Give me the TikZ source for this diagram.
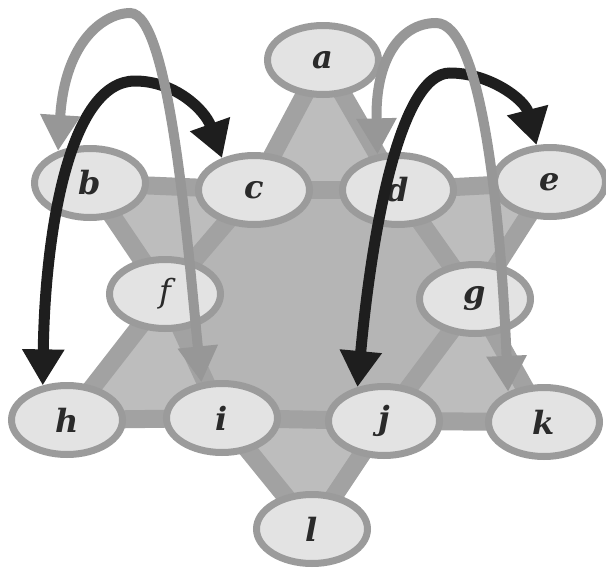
\documentclass[tikz,border=0pt]{standalone}
\usepackage{fontspec}
\usepackage{tikz}
\usetikzlibrary{arrows.meta,shapes.geometric,backgrounds}
\newfontfamily\starfont{DejaVu Serif}
\newcommand{\vtxfont}{\starfont\bfseries\itshape\fontsize{32}{32}\selectfont}
\definecolor{stInk}{HTML}{2A2A2A}
\definecolor{stFace}{HTML}{E3E3E3}
\definecolor{stRim}{HTML}{9B9B9B}
\definecolor{stBand}{HTML}{A2A2A2}
\definecolor{stTip}{HTML}{BDBDBD}
\definecolor{stCore}{HTML}{B5B5B5}
\definecolor{stArcGray}{HTML}{979797}
\definecolor{stArcDark}{HTML}{1E1E1E}
\tikzset{
  vtx/.style={ellipse,draw=stRim,fill=stFace,line width=7pt,minimum width=111pt,
    minimum height=69pt,inner sep=0pt,font=\vtxfont,text=stInk},
  band/.style={draw=stBand,line width=18pt},
  grayarc/.style={draw=stArcGray,line width=10pt,
    {Triangle[length=36pt,width=38pt]}-{Triangle[length=36pt,width=38pt]}},
  darkarc/.style={draw=stArcDark,line width=11pt,
    {Triangle[length=36pt,width=40pt]}-{Triangle[length=36pt,width=40pt]}}
}

\begin{document}
\begin{tikzpicture}[x=1pt,y=-1pt]
  \useasboundingbox (0,0) rectangle (606,568);
  \node[vtx] (a) at (323,60) {a};
  \node[vtx] (b) at (90,183) {b};
  \node[vtx] (c) at (254,190) {c};
  \node[vtx] (d) at (398,190) {d};
  \node[vtx] (e) at (550,182) {e};
  \node[vtx] (f) at (165,294) {\mdseries f};
  \node[vtx] (g) at (475,299) {g};
  \node[vtx] (h) at (67,420) {h};
  \node[vtx] (i) at (222,418) {i};
  \node[vtx] (j) at (384,421) {j};
  \node[vtx] (k) at (544,422) {k};
  \node[vtx] (l) at (312,529) {l};

  \begin{scope}[on background layer]
    \foreach \p/\q/\r in {a/c/d,b/c/f,d/e/g,f/h/i,g/j/k,i/j/l}
      \fill[stTip] (\p.center) -- (\q.center) -- (\r.center) -- cycle;
    \fill[stCore] (c.center) -- (d.center) -- (g.center) -- (j.center) -- (i.center) -- (f.center) -- cycle;
    \foreach \p/\q in {a/c,c/f,f/h,a/d,d/g,g/k,b/c,c/d,d/e,b/f,f/i,i/l,e/g,g/j,j/l,h/i,i/j,j/k}
      \draw[band] (\p.center) -- (\q.center);
  \end{scope}

  \draw[darkarc] (h.125) .. controls (45,230) and (70,81) .. (135,81)
    .. controls (175,81) and (205,110) .. (c.135);
  \draw[grayarc] (b.135) .. controls (65,40) and (105,13) .. (130,13)
    .. controls (170,13) and (188,250) .. (i.120);
  \draw[darkarc] (j.128) .. controls (372,230) and (400,73) .. (450,73)
    .. controls (490,73) and (525,100) .. (e.110);
  \draw[grayarc] (d.120) .. controls (375,60) and (400,23) .. (436,23)
    .. controls (480,23) and (500,200) .. (k.140);
\end{tikzpicture}
\end{document}
